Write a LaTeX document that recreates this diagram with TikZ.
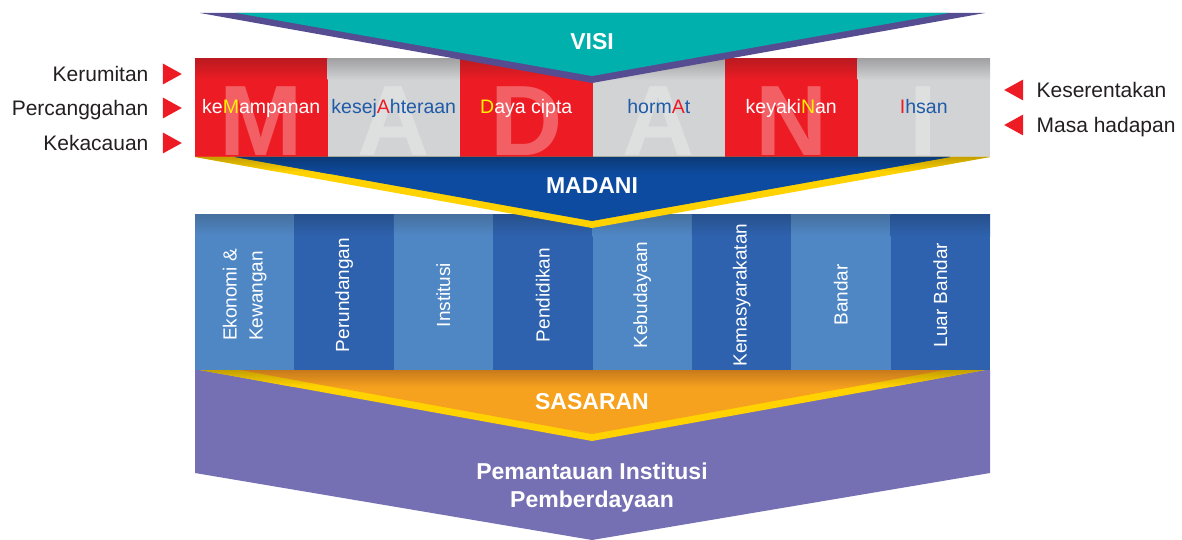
\documentclass[tikz,border=0pt]{standalone}
\usepackage{fontspec}
\setmainfont{Liberation Sans}
\usetikzlibrary{positioning,shapes.geometric}
\definecolor{mdred}{RGB}{237,28,36}
\definecolor{mdredtop}{RGB}{188,26,32}
\definecolor{mdgrey}{RGB}{209,211,212}
\definecolor{mdgreytop}{RGB}{162,162,164}
\definecolor{mdteal}{RGB}{0,176,173}
\definecolor{mdviolet}{RGB}{86,76,145}
\definecolor{mdnavy}{RGB}{13,75,160}
\definecolor{mdnavytop}{RGB}{11,58,119}
\definecolor{mdgold}{RGB}{255,210,0}
\definecolor{mdgolddark}{RGB}{196,160,0}
\definecolor{mdsky}{RGB}{79,135,197}
\definecolor{mdskytop}{RGB}{69,112,159}
\definecolor{mdblue}{RGB}{46,98,174}
\definecolor{mdbluetop}{RGB}{39,80,140}
\definecolor{mdorange}{RGB}{247,162,30}
\definecolor{mdorangetop}{RGB}{199,122,27}
\definecolor{mdpurple}{RGB}{117,112,179}
\definecolor{mdtext}{RGB}{31,91,168}
\definecolor{mdyellow}{RGB}{255,242,0}
\definecolor{mdink}{RGB}{35,31,32}

\begin{document}
\begin{tikzpicture}[x=1pt,y=-1pt,
    every node/.style={inner sep=0pt},
    sidelabel/.style={font=\fontsize{21}{25}\selectfont,text=mdink,text height=15pt,text depth=0pt},
    marker/.style={isosceles triangle,isosceles triangle stretches,fill=mdred,minimum height=19pt,minimum width=21pt},
    cellword/.style={font=\fontsize{19.5}{24}\selectfont,anchor=base},
    bigletter/.style={font=\fontsize{100}{100}\selectfont\bfseries,text=white,text opacity=.3,anchor=base},
    colword/.style={font=\fontsize{19}{26}\selectfont,text=white,rotate=90,align=left},
    headword/.style={font=\fontsize{23}{28}\selectfont\bfseries,text=white}]
  \useasboundingbox (0,0) rectangle (1182,540);

  % nilai band
  \foreach \i/\col/\topcol in {0/mdred/mdredtop,1/mdgrey/mdgreytop,2/mdred/mdredtop,3/mdgrey/mdgreytop,4/mdred/mdredtop,5/mdgrey/mdgreytop}{
    \fill[\col] (195+132.5*\i,59) rectangle (327.5+132.5*\i,157);
    \shade[top color=\topcol,bottom color=\col] (195+132.5*\i,59) rectangle (327.5+132.5*\i,80);
  }
  \begin{scope}
    \clip (195,59) rectangle (990,157);
    \foreach \i/\ltr in {0/M,1/A,2/D,3/A,4/N,5/I}
      \node[bigletter] (big\i) at (261.25+132.5*\i,156) {\ltr};
  \end{scope}
  \node[cellword,text=white] (mampan) at (261.25,114) {ke{\color{mdyellow}M}ampanan};
  \node[cellword,text=mdtext] (sejahtera) at (393.75,114) {kesej{\color{mdred}A}hteraan};
  \node[cellword,text=white] (cipta) at (526.25,114) {{\color{mdyellow}D}aya cipta};
  \node[cellword,text=mdtext] (hormat) at (658.75,114) {horm{\color{mdred}A}t};
  \node[cellword,text=white] (yakin) at (791.25,114) {keyaki{\color{mdyellow}N}an};
  \node[cellword,text=mdtext] (ihsan) at (923.75,114) {{\color{mdred}I}hsan};

  % side labels
  \node[marker] (mk1) at (169,74) {};
  \node[marker] (mk2) at (169,108) {};
  \node[marker] (mk3) at (169,143) {};
  \node[sidelabel,left=14pt of mk1] (rumit) {Kerumitan};
  \node[sidelabel,left=14pt of mk2] (canggah) {Percanggahan};
  \node[sidelabel,left=14pt of mk3] (kacau) {Kekacauan};
  \node[marker,shape border rotate=180] (mk4) at (1017,90) {};
  \node[marker,shape border rotate=180] (mk5) at (1017,125) {};
  \node[sidelabel,right=13pt of mk4] (serentak) {Keserentakan};
  \node[sidelabel,right=13pt of mk5] (hadapan) {Masa hadapan};

  % VISI
  \fill[mdviolet] (200,13) -- (985,13) -- (592,83) -- cycle;
  \fill[mdteal] (236,13) -- (949,13) -- (592,76) -- cycle;
  \node[headword] (visi) at (592,42) {VISI};

  % teras columns
  \foreach \i/\col/\topcol in {0/mdsky/mdskytop,1/mdblue/mdbluetop,2/mdsky/mdskytop,3/mdblue/mdbluetop,4/mdsky/mdskytop,5/mdblue/mdbluetop,6/mdsky/mdskytop,7/mdblue/mdbluetop}{
    \fill[\col] (195+99.375*\i,214) rectangle (294.375+99.375*\i,370);
    \shade[top color=\topcol,bottom color=\col] (195+99.375*\i,214) rectangle (294.375+99.375*\i,236);
  }
  \node[colword] (ekonomi) at (244.7,295) {Ekonomi \&\\Kewangan};
  \node[colword] (undang) at (344.1,295) {Perundangan};
  \node[colword] (institusi) at (443.4,295) {Institusi};
  \node[colword] (didik) at (542.8,295) {Pendidikan};
  \node[colword] (budaya) at (642.2,295) {Kebudayaan};
  \node[colword] (masyarakat) at (741.6,295) {Kemasyarakatan};
  \node[colword] (bandar) at (840.9,295) {Bandar};
  \node[colword] (luar) at (940.3,295) {Luar Bandar};

  % MADANI
  \fill[mdgold] (195,157) -- (990,157) -- (592,228) -- cycle;
  \begin{scope}
    \clip (195,157) -- (990,157) -- (592,228) -- cycle;
    \shade[top color=mdgolddark,bottom color=mdgold] (195,157) rectangle (990,172);
  \end{scope}
  \fill[mdnavy] (235,157) -- (950,157) -- (592,221) -- cycle;
  \begin{scope}
    \clip (235,157) -- (950,157) -- (592,221) -- cycle;
    \shade[top color=mdnavytop,bottom color=mdnavy] (235,157) rectangle (950,174);
  \end{scope}
  \node[headword] (madani) at (592,186) {MADANI};

  % SASARAN
  \fill[mdpurple] (195,370) -- (990,370) -- (990,473) -- (592,540) -- (195,473) -- cycle;
  \fill[mdgold] (200,370) -- (985,370) -- (592,441) -- cycle;
  \begin{scope}
    \clip (200,370) -- (985,370) -- (592,441) -- cycle;
    \shade[top color=mdgolddark,bottom color=mdgold] (200,370) rectangle (985,386);
  \end{scope}
  \fill[mdorange] (240,370) -- (945,370) -- (592,434) -- cycle;
  \begin{scope}
    \clip (240,370) -- (945,370) -- (592,434) -- cycle;
    \shade[top color=mdorangetop,bottom color=mdorange] (240,370) rectangle (945,388);
  \end{scope}
  \node[headword] (sasaran) at (592,402) {SASARAN};
  \node[headword,anchor=base] (pantau) at (592,479) {Pemantauan Institusi};
  \node[headword,anchor=base] (daya) at (592,507) {Pemberdayaan};
\end{tikzpicture}
\end{document}
